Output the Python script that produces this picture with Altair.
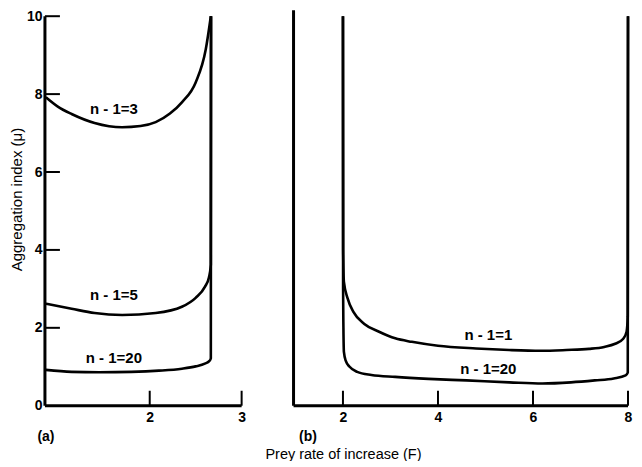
import altair as alt
import pandas as pd

FONT = "Liberation Sans"

# ---------- Panel (a) data ----------
a3_x = [0.87, 1.00, 1.15, 1.40, 1.70, 1.90, 2.065, 2.22, 2.35, 2.50, 2.61, 2.665]
a3_y = [7.92, 7.68, 7.49, 7.26, 7.15, 7.18, 7.28, 7.50, 7.79, 8.30, 9.15, 10.0]

a5_x = [0.87, 1.15, 1.40, 1.70, 2.065, 2.35, 2.50, 2.60, 2.645, 2.665, 2.667]
a5_y = [2.62, 2.49, 2.38, 2.33, 2.38, 2.54, 2.77, 3.05, 3.30, 3.62, 10.0]

a20_x = [0.87, 1.15, 1.45, 1.80, 2.10, 2.35, 2.50, 2.60, 2.65, 2.665, 2.667]
a20_y = [0.92, 0.87, 0.86, 0.87, 0.90, 0.95, 1.01, 1.08, 1.15, 1.22, 10.0]

# ---------- Panel (b) data ----------
b1_x = [2.000, 2.004, 2.02, 2.10, 2.22, 2.45, 2.76, 3.10, 3.45, 4.00, 4.80, 5.50, 6.16, 6.70, 7.18, 7.50, 7.73, 7.90, 7.97, 7.995, 8.00]
b1_y = [10.0, 4.00, 3.18, 2.75, 2.41, 2.10, 1.90, 1.73, 1.64, 1.54, 1.47, 1.43, 1.41, 1.43, 1.46, 1.51, 1.59, 1.72, 1.90, 2.30, 10.0]

b20_x = [2.000, 2.003, 2.01, 2.02, 2.06, 2.14, 2.30, 2.60, 3.10, 3.80, 4.60, 5.50, 6.20, 6.80, 7.30, 7.70, 7.95, 7.995, 8.00]
b20_y = [10.0, 3.00, 2.00, 1.38, 1.15, 1.00, 0.87, 0.79, 0.74, 0.69, 0.65, 0.60, 0.57, 0.60, 0.65, 0.70, 0.78, 0.85, 10.0]

# labels
a_lab_text = ["n - 1=3", "n - 1=5", "n - 1=20"]
a_lab_x = [1.61, 1.61, 1.61]
a_lab_y = [7.62, 2.85, 1.23]
b_lab_text = ["n - 1=1", "n - 1=20"]
b_lab_x = [5.06, 5.06]
b_lab_y = [1.82, 0.95]

# axes
a_xdom = [0.86, 3.0]
b_xdom = [0.96, 8.0]
ydom = [0, 10.15]
a_xticks = [2, 3]
b_xticks = [2, 4, 6, 8]
a_yticks = [0, 2, 4, 6, 8, 10]
y_title = "Aggregation index (μ)"
x_title = "Prey rate of increase (F)"


def series(xs, ys, name):
    return pd.DataFrame({"x": xs, "y": ys, "s": name, "o": list(range(len(xs)))})


def panel(curves, labels, xdom, xticks, yticks, tag, show_y, W, H, tag_x):
    xscale = alt.Scale(domain=xdom, nice=False, zero=False)
    yscale = alt.Scale(domain=ydom, nice=False, zero=False)
    xaxis = alt.Axis(values=xticks, domain=False, ticks=False, grid=False,
                     labelFont=FONT, labelFontSize=14, labelFontWeight="bold",
                     labelColor="black", labelPadding=5, labelFlush=False,
                     title=tag, titleFont=FONT, titleFontSize=14, titleFontWeight="bold",
                     titleColor="black", titleX=tag_x, titleY=31, titleAlign="left",
                     titleBaseline="middle", format="d")
    if show_y:
        yaxis = alt.Axis(values=yticks, domain=False, ticks=False, grid=False,
                         labelFont=FONT, labelFontSize=14, labelFontWeight="bold",
                         labelColor="black", labelPadding=3, format="d",
                         title=y_title, titleFont=FONT, titleFontSize=15,
                         titleFontWeight="normal", titleColor="black",
                         titleX=-28, titleY=189, titleAngle=270, titleBaseline="middle")
    else:
        yaxis = None

    def X(f="x"):
        return alt.X(f + ":Q", scale=xscale, axis=xaxis)

    def Y(f="y"):
        return alt.Y(f + ":Q", scale=yscale, axis=yaxis)

    cdf = pd.concat(curves, ignore_index=True)
    lines = alt.Chart(cdf).mark_line(color="black", strokeWidth=2.6, interpolate="monotone").encode(
        x=X(), y=Y(), detail="s:N", order="o:Q")

    ldf = pd.DataFrame({"x": labels[1], "y": labels[2], "t": labels[0]})
    texts = alt.Chart(ldf).mark_text(font=FONT, fontSize=15, fontWeight="bold", color="black").encode(
        x=X(), y=Y(), text="t:N")

    ymax = 10.0 if show_y else ydom[1]
    adf = pd.DataFrame({"x": [xdom[0], xdom[0]], "x2": [xdom[1], xdom[0]],
                        "y": [0, 0], "y2": [0, ymax]})
    axes = alt.Chart(adf).mark_rule(color="black", strokeWidth=3).encode(
        x=X(), x2="x2:Q", y=Y(), y2="y2:Q")

    xt = alt.Chart(pd.DataFrame({"x": xticks})).mark_rule(color="black", strokeWidth=2).encode(
        x=X(), y=alt.value(H - 15), y2=alt.value(H))
    layers = [lines, axes, xt, texts]
    if show_y:
        yt = alt.Chart(pd.DataFrame({"y": [v for v in yticks if v > 0]})).mark_rule(
            color="black", strokeWidth=2).encode(
            y=Y(), x=alt.value(0), x2=alt.value(15))
        layers.append(yt)
    return alt.layer(*layers).properties(width=W, height=H)


H = 396
pa = panel([series(a3_x, a3_y, "3"), series(a5_x, a5_y, "5"), series(a20_x, a20_y, "20")],
           (a_lab_text, a_lab_x, a_lab_y), a_xdom, a_xticks, a_yticks, "(a)", True, 197, H, -8)

pb = panel([series(b1_x, b1_y, "1"), series(b20_x, b20_y, "20")],
           (b_lab_text, b_lab_x, b_lab_y), b_xdom, b_xticks, a_yticks, "(b)", False, 335, H, 5)

title_mark = alt.Chart(pd.DataFrame({"t": [x_title]})).mark_text(
    font=FONT, fontSize=14.5, color="black").encode(
    x=alt.value(50), y=alt.value(445), text="t:N")
pb = alt.layer(pb, title_mark)

chart = alt.hconcat(pa, pb, spacing=52, bounds="flush").configure_view(strokeWidth=0).properties(
    padding={"left": 2, "top": 0, "right": 0, "bottom": -1}, background="white")

chart.save("out.html", embed_options={"renderer": "svg", "actions": False})
